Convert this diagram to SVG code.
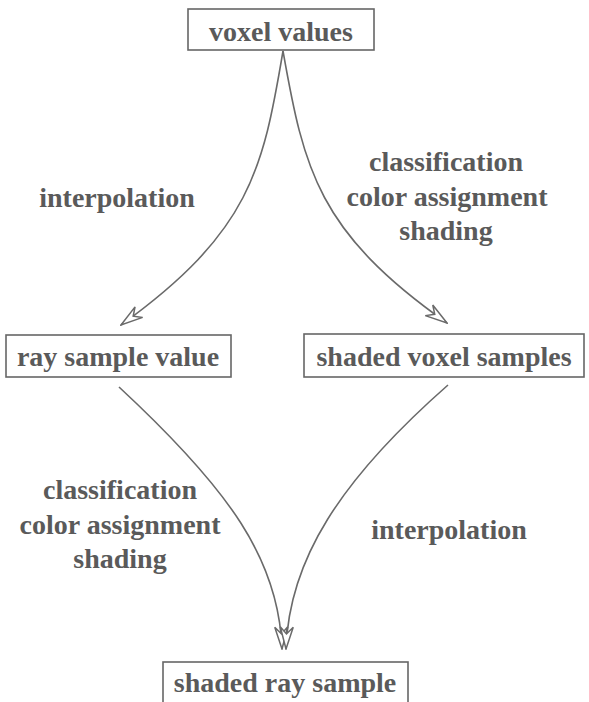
<svg xmlns="http://www.w3.org/2000/svg" width="589" height="702" viewBox="0 0 589 702">
<style>
  .box { fill: #fff; stroke: #666; stroke-width: 1.6; }
  .t { font-family: "Liberation Serif", serif; font-weight: bold; font-size: 28px; fill: #5a5a5a; text-anchor: middle; }
  .edge { fill: none; stroke: #6a6a6a; stroke-width: 1.6; }
</style>
<defs>
  <marker id="arr" viewBox="0 0 24 16" refX="23" refY="8" markerWidth="24" markerHeight="16" markerUnits="userSpaceOnUse" orient="auto">
    <path d="M1,1.5 L23,8 L1,14.5 L8,8 Z" fill="#fff" stroke="#6a6a6a" stroke-width="1.5" stroke-linejoin="miter"/>
  </marker>
</defs>
<rect width="589" height="702" fill="#fff"/>
<g id="connectors">
  <path class="edge" d="M283,51 C263,170 250,232 121,325" marker-end="url(#arr)"/>
  <path class="edge" d="M283,51 C304,170 318,232 447,323" marker-end="url(#arr)"/>
  <path class="edge" d="M119,387 C230,490 279,560 282,649" marker-end="url(#arr)"/>
  <path class="edge" d="M448,385 C340,480 289,560 286,649" marker-end="url(#arr)"/>
</g>
<g id="labels">
  <text class="t" x="117" y="207">interpolation</text>
  <text class="t" x="446" y="171">classification</text>
  <text class="t" x="447" y="206">color assignment</text>
  <text class="t" x="446" y="240">shading</text>
  <text class="t" x="120" y="499">classification</text>
  <text class="t" x="120" y="534">color assignment</text>
  <text class="t" x="120" y="568">shading</text>
  <text class="t" x="449" y="539">interpolation</text>
</g>
<g id="voxel-values">
  <rect class="box" x="188" y="9" width="186" height="41"/>
  <text class="t" x="281" y="41">voxel values</text>
</g>
<g id="ray-sample-value">
  <rect class="box" x="6" y="335" width="225" height="42"/>
  <text class="t" x="118" y="366">ray sample value</text>
</g>
<g id="shaded-voxel-samples">
  <rect class="box" x="304" y="334" width="280" height="43"/>
  <text class="t" x="444" y="366">shaded voxel samples</text>
</g>
<g id="shaded-ray-sample">
  <rect class="box" x="163" y="662" width="245" height="42"/>
  <text class="t" x="285" y="692">shaded ray sample</text>
</g>
</svg>
